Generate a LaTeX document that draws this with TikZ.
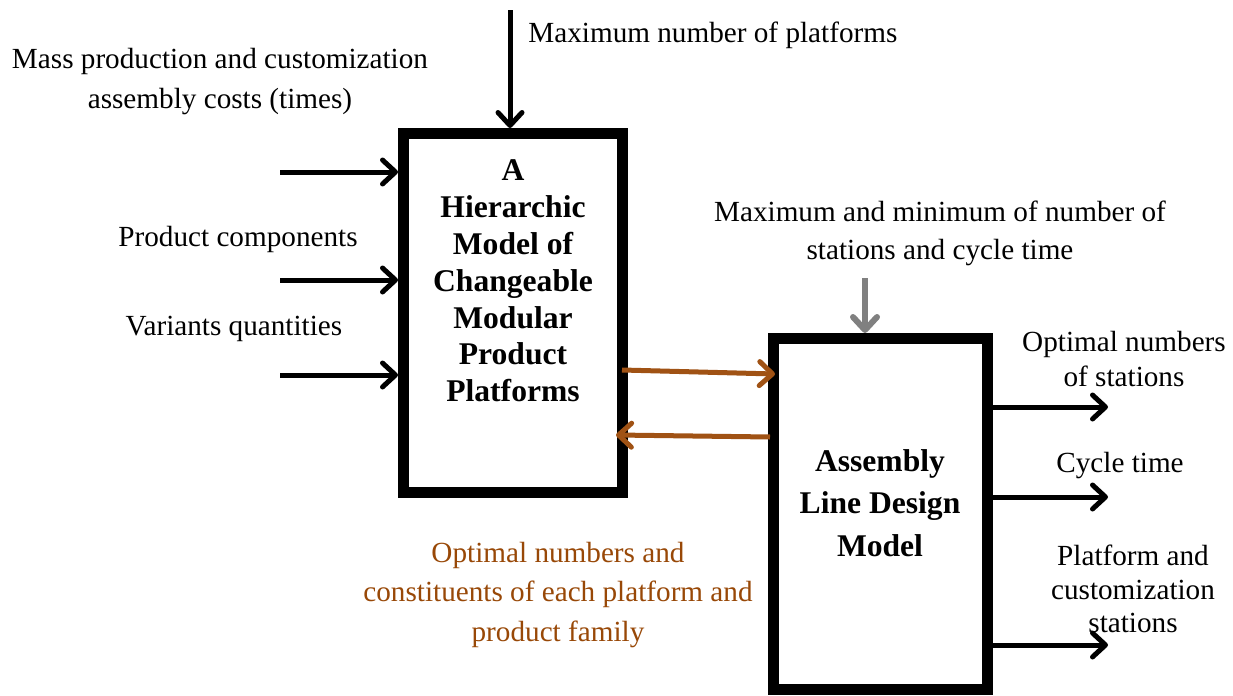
\documentclass[tikz,border=0pt]{standalone}
\usepackage{fontspec}
\setmainfont{Liberation Serif}
\usetikzlibrary{arrows.meta,positioning}

\definecolor{rust}{RGB}{152,72,7}
\definecolor{rustline}{RGB}{160,82,20}

\tikzset{
  modelbox/.style={draw, line width=5.5pt},
  flow/.style={line width=2.5pt, -{Straight Barb[length=6.5pt,width=12pt,round]}},
  feed/.style={flow, rustline},
  bound/.style={flow, gray, line width=3pt},
  lbl/.style={inner sep=0pt, align=center, font=\fontsize{14.6}{19}\selectfont},
  boldlbl/.style={inner sep=0pt, align=center, font=\fontsize{15.8}{18.4}\selectfont\bfseries}
}

\begin{document}
\begin{tikzpicture}[x=0.5pt, y=-0.5pt]
\useasboundingbox (0,0) rectangle (1233,696);

% The two models
\node[modelbox, minimum width=109.5pt, minimum height=179.5pt] (boxA) at (513,313) {};
\node[modelbox, minimum width=107pt, minimum height=175.5pt] (boxB) at (880.5,514) {};

\node[boldlbl] (nameA) at (513,281) {A\\Hierarchic\\Model of\\Changeable\\Modular\\Product\\Platforms};
\node[boldlbl, font=\fontsize{15.8}{21.2}\selectfont\bfseries] (nameB) at (880,503) {Assembly\\Line Design\\Model};

% Inputs of model A
\node[lbl, anchor=west] (maxPlat) at (528,35) {Maximum number of platforms};
\node[lbl, font=\fontsize{14.6}{20}\selectfont] (massCost) at (220,82) {Mass production and customization\\assembly costs (times)};
\node[lbl] (components) at (238,239) {Product components};
\node[lbl] (variants) at (234,329) {Variants quantities};

\coordinate (topIn) at (510,10);
\coordinate (inMass) at (280,172);
\coordinate (inComp) at (280,280);
\coordinate (inVar) at (280,375);

\draw[flow] (topIn) -- (topIn |- boxA.north);
\draw[flow] (inMass) -- (inMass -| boxA.west);
\draw[flow] (inComp) -- (inComp -| boxA.west);
\draw[flow] (inVar) -- (inVar -| boxA.west);

% Exchange between the models
\draw[feed] ([xshift=-3pt,yshift=-28.5pt]boxA.east) -- ([xshift=3.5pt,yshift=70pt]boxB.west);
\draw[feed] ([xshift=1pt,yshift=38.5pt]boxB.west) -- ([xshift=-6pt,yshift=-61pt]boxA.east);
\node[lbl, rust, font=\fontsize{14.6}{19.7}\selectfont] (exchange) at (558,595) {Optimal numbers and\\constituents of each platform and\\product family};

% Input of model B
\node[lbl] (limits) at (940,233) {Maximum and minimum of number of\\stations and cycle time};
\coordinate (limIn) at (865,278);
\draw[bound] (limIn) -- (limIn |- boxB.north);

% Outputs of model B
\node[lbl, font=\fontsize{14.6}{17.5}\selectfont] (outStations) at (1124,359) {Optimal numbers\\of stations};
\node[lbl] (outCycle) at (1120,466) {Cycle time};
\node[lbl, font=\fontsize{14.6}{16.8}\selectfont] (outPlat) at (1133,589) {Platform and\\customization\\stations};

\coordinate (outA) at (1108,407);
\coordinate (outB) at (1108,497);
\coordinate (outC) at (1108,645);
\draw[flow] (outA -| boxB.east) -- (outA);
\draw[flow] (outB -| boxB.east) -- (outB);
\draw[flow] (outC -| boxB.east) -- (outC);

\end{tikzpicture}
\end{document}
